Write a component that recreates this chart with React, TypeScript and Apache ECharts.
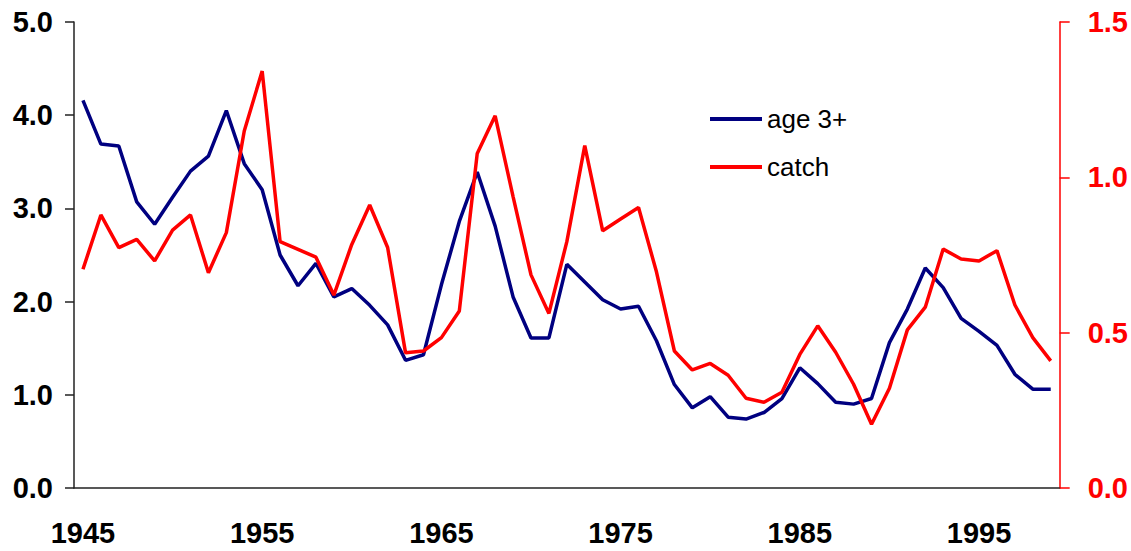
import React, { useEffect, useRef } from "react";
import * as echarts from "echarts";

const years: string[] = [];
for (let y = 1945; y <= 1999; y++) years.push(String(y));

const age3plus = [
  4.16, 3.69, 3.67, 3.07, 2.83, 3.12, 3.40, 3.56, 4.05, 3.48,
  3.20, 2.50, 2.17, 2.41, 2.05, 2.14, 1.96, 1.75, 1.37, 1.43,
  2.18, 2.86, 3.39, 2.81, 2.05, 1.61, 1.61, 2.40, 2.21, 2.02,
  1.92, 1.95, 1.58, 1.11, 0.86, 0.98, 0.76, 0.74, 0.81, 0.96,
  1.29, 1.12, 0.92, 0.90, 0.96, 1.56, 1.92, 2.36, 2.15, 1.82,
  1.68, 1.53, 1.22, 1.06, 1.06,
];

const catchVals = [
  0.704, 0.879, 0.774, 0.800, 0.731, 0.830, 0.879, 0.693, 0.822, 1.149,
  1.342, 0.793, 0.768, 0.743, 0.621, 0.784, 0.911, 0.774, 0.435, 0.441,
  0.484, 0.570, 1.077, 1.198, 0.938, 0.686, 0.562, 0.793, 1.102, 0.828,
  0.866, 0.903, 0.696, 0.441, 0.380, 0.401, 0.363, 0.289, 0.276, 0.308,
  0.430, 0.522, 0.437, 0.334, 0.205, 0.321, 0.509, 0.582, 0.769, 0.737,
  0.731, 0.764, 0.589, 0.484, 0.409,
];

const FONT = 'Arial, "Liberation Sans", sans-serif';

export default function App() {
  const ref = useRef<HTMLDivElement>(null);
  useEffect(() => {
    document.body.style.margin = "0";
    const chart = echarts.init(ref.current!, null, { renderer: "svg" });
    chart.setOption({
      animation: false,
      backgroundColor: "#ffffff",
      grid: { left: 74, right: 69, top: 22, bottom: 63, containLabel: false },
      legend: {
        orient: "vertical",
        left: 710,
        top: 106,
        padding: 0,
        icon: "rect",
        itemWidth: 52,
        itemHeight: 4,
        itemGap: 22,
        textStyle: { fontFamily: FONT, fontSize: 26, color: "#000" },
        data: ["age 3+", "catch"],
      },
      xAxis: {
        type: "category",
        data: years,
        boundaryGap: true,
        axisLine: { lineStyle: { color: "#222", width: 1.5 } },
        axisTick: { interval: 4, length: 10, lineStyle: { color: "#444", width: 1.5 } },
        axisLabel: {
          interval: 9,
          margin: 30,
          fontFamily: FONT,
          fontWeight: "bold",
          fontSize: 29,
          color: "#000",
        },
        splitLine: { show: false },
      },
      yAxis: [
        {
          type: "value",
          min: 0,
          max: 5,
          interval: 1,
          position: "left",
          axisLine: { show: true, lineStyle: { color: "#222", width: 1.5 } },
          axisTick: { show: true, length: 9, lineStyle: { color: "#222", width: 1.5 } },
          axisLabel: {
            margin: 21,
            fontFamily: FONT,
            fontWeight: "bold",
            fontSize: 29,
            color: "#000",
            formatter: (v: number) => v.toFixed(1),
          },
          splitLine: { show: false },
        },
        {
          type: "value",
          min: 0,
          max: 1.5,
          interval: 0.5,
          position: "right",
          axisLine: { show: true, lineStyle: { color: "#ff0000", width: 1.5 } },
          axisTick: { show: true, length: 10, lineStyle: { color: "#ff0000", width: 1.5 } },
          axisLabel: {
            margin: 28,
            fontFamily: FONT,
            fontWeight: "bold",
            fontSize: 29,
            color: "#ff0000",
            formatter: (v: number) => v.toFixed(1),
          },
          splitLine: { show: false },
        },
      ],
      series: [
        {
          name: "age 3+",
          type: "line",
          yAxisIndex: 0,
          data: age3plus,
          symbol: "none",
          lineStyle: { color: "#000080", width: 3.5 },
          itemStyle: { color: "#000080" },
        },
        {
          name: "catch",
          type: "line",
          yAxisIndex: 1,
          data: catchVals,
          symbol: "none",
          lineStyle: { color: "#ff0000", width: 3.5 },
          itemStyle: { color: "#ff0000" },
        },
      ],
    });
    return () => chart.dispose();
  }, []);
  return (
    <div
      ref={ref}
      style={{ position: "absolute", left: 0, top: 0, width: 1131, height: 551 }}
    />
  );
}
